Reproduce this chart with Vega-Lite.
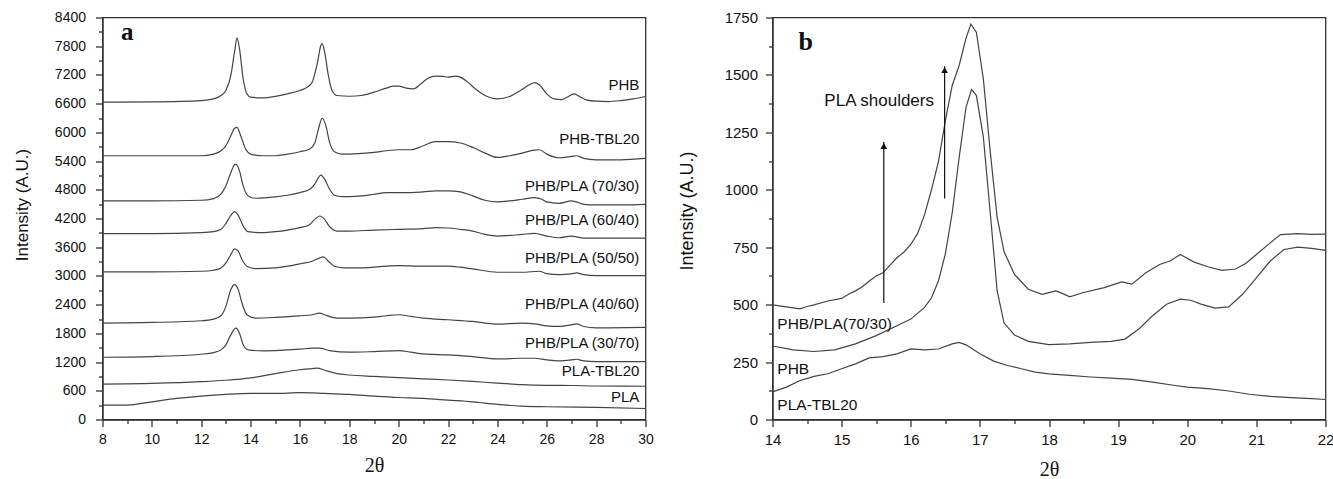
{
"$schema": "https://vega.github.io/schema/vega-lite/v6.json",
"autosize": {"type": "pad"},
"padding": {"left": 12.5, "top": 9.5, "right": 5, "bottom": 5},
"background": "white",
"bounds": "flush",
"spacing": 127,
"config": {
  "view": {"stroke": "#333", "strokeWidth": 1.3},
  "axis": {"grid": false, "domainColor": "#333", "tickColor": "#333", "labelColor": "#111", "titleColor": "#111", "labelFont": "Liberation Sans", "titleFont": "Liberation Sans", "domainWidth": 1.3, "tickWidth": 1.3, "labelOverlap": false, "labelFlush": false, "titleFontWeight": "normal"}
},
"datasets": {
  "a": [
    {"s":"PHB","x":8,"y":6630},{"s":"PHB","x":10,"y":6637},{"s":"PHB","x":12,"y":6665},{"s":"PHB","x":12.5,"y":6700},{"s":"PHB","x":12.8,"y":6770},{"s":"PHB","x":13,"y":6875},{"s":"PHB","x":13.2,"y":7190},{"s":"PHB","x":13.35,"y":7680},{"s":"PHB","x":13.45,"y":7975},{"s":"PHB","x":13.55,"y":7750},{"s":"PHB","x":13.7,"y":7120},{"s":"PHB","x":13.85,"y":6805},{"s":"PHB","x":14,"y":6735},{"s":"PHB","x":14.5,"y":6720},{"s":"PHB","x":15,"y":6750},{"s":"PHB","x":15.5,"y":6805},{"s":"PHB","x":16,"y":6875},{"s":"PHB","x":16.3,"y":6945},{"s":"PHB","x":16.5,"y":7050},{"s":"PHB","x":16.7,"y":7435},{"s":"PHB","x":16.85,"y":7820},{"s":"PHB","x":16.9,"y":7855},{"s":"PHB","x":17,"y":7680},{"s":"PHB","x":17.15,"y":7190},{"s":"PHB","x":17.3,"y":6875},{"s":"PHB","x":17.5,"y":6770},{"s":"PHB","x":18,"y":6755},{"s":"PHB","x":18.5,"y":6770},{"s":"PHB","x":19,"y":6840},{"s":"PHB","x":19.5,"y":6925},{"s":"PHB","x":19.8,"y":6966},{"s":"PHB","x":20,"y":6966},{"s":"PHB","x":20.3,"y":6925},{"s":"PHB","x":20.6,"y":6910},{"s":"PHB","x":20.9,"y":7015},{"s":"PHB","x":21.2,"y":7134},{"s":"PHB","x":21.5,"y":7176},{"s":"PHB","x":21.8,"y":7169},{"s":"PHB","x":22,"y":7155},{"s":"PHB","x":22.3,"y":7176},{"s":"PHB","x":22.5,"y":7155},{"s":"PHB","x":22.8,"y":7050},{"s":"PHB","x":23.1,"y":6910},{"s":"PHB","x":23.5,"y":6770},{"s":"PHB","x":24,"y":6700},{"s":"PHB","x":24.5,"y":6750},{"s":"PHB","x":25,"y":6896},{"s":"PHB","x":25.3,"y":6994},{"s":"PHB","x":25.5,"y":7040},{"s":"PHB","x":25.7,"y":6994},{"s":"PHB","x":26,"y":6805},{"s":"PHB","x":26.3,"y":6700},{"s":"PHB","x":26.6,"y":6686},{"s":"PHB","x":26.9,"y":6756},{"s":"PHB","x":27.1,"y":6805},{"s":"PHB","x":27.3,"y":6756},{"s":"PHB","x":27.6,"y":6680},{"s":"PHB","x":28,"y":6651},{"s":"PHB","x":28.5,"y":6644},{"s":"PHB","x":29,"y":6665},{"s":"PHB","x":29.5,"y":6700},{"s":"PHB","x":30,"y":6750},

    {"s":"PHB-TBL20","x":8,"y":5511},{"s":"PHB-TBL20","x":10,"y":5511},{"s":"PHB-TBL20","x":12,"y":5511},{"s":"PHB-TBL20","x":12.5,"y":5546},{"s":"PHB-TBL20","x":12.8,"y":5616},{"s":"PHB-TBL20","x":13,"y":5721},{"s":"PHB-TBL20","x":13.2,"y":5931},{"s":"PHB-TBL20","x":13.35,"y":6085},{"s":"PHB-TBL20","x":13.45,"y":6106},{"s":"PHB-TBL20","x":13.6,"y":5931},{"s":"PHB-TBL20","x":13.8,"y":5651},{"s":"PHB-TBL20","x":14,"y":5546},{"s":"PHB-TBL20","x":14.5,"y":5511},{"s":"PHB-TBL20","x":15,"y":5511},{"s":"PHB-TBL20","x":15.5,"y":5546},{"s":"PHB-TBL20","x":16,"y":5595},{"s":"PHB-TBL20","x":16.4,"y":5651},{"s":"PHB-TBL20","x":16.6,"y":5777},{"s":"PHB-TBL20","x":16.75,"y":6071},{"s":"PHB-TBL20","x":16.9,"y":6295},{"s":"PHB-TBL20","x":17.05,"y":6141},{"s":"PHB-TBL20","x":17.2,"y":5791},{"s":"PHB-TBL20","x":17.4,"y":5595},{"s":"PHB-TBL20","x":17.7,"y":5546},{"s":"PHB-TBL20","x":18,"y":5546},{"s":"PHB-TBL20","x":18.5,"y":5560},{"s":"PHB-TBL20","x":19,"y":5581},{"s":"PHB-TBL20","x":19.5,"y":5616},{"s":"PHB-TBL20","x":20,"y":5637},{"s":"PHB-TBL20","x":20.5,"y":5637},{"s":"PHB-TBL20","x":21,"y":5721},{"s":"PHB-TBL20","x":21.5,"y":5805},{"s":"PHB-TBL20","x":22,"y":5805},{"s":"PHB-TBL20","x":22.5,"y":5777},{"s":"PHB-TBL20","x":23,"y":5686},{"s":"PHB-TBL20","x":23.5,"y":5567},{"s":"PHB-TBL20","x":24,"y":5476},{"s":"PHB-TBL20","x":24.5,"y":5511},{"s":"PHB-TBL20","x":25,"y":5567},{"s":"PHB-TBL20","x":25.5,"y":5630},{"s":"PHB-TBL20","x":25.7,"y":5637},{"s":"PHB-TBL20","x":26,"y":5546},{"s":"PHB-TBL20","x":26.5,"y":5469},{"s":"PHB-TBL20","x":27,"y":5497},{"s":"PHB-TBL20","x":27.2,"y":5511},{"s":"PHB-TBL20","x":27.5,"y":5455},{"s":"PHB-TBL20","x":28,"y":5427},{"s":"PHB-TBL20","x":29,"y":5427},{"s":"PHB-TBL20","x":30,"y":5455},

    {"s":"70/30","x":8,"y":4567},{"s":"70/30","x":10,"y":4567},{"s":"70/30","x":12,"y":4581},{"s":"70/30","x":12.5,"y":4616},{"s":"70/30","x":12.8,"y":4707},{"s":"70/30","x":13,"y":4882},{"s":"70/30","x":13.2,"y":5162},{"s":"70/30","x":13.35,"y":5322},{"s":"70/30","x":13.4,"y":5336},{"s":"70/30","x":13.55,"y":5197},{"s":"70/30","x":13.7,"y":4882},{"s":"70/30","x":13.9,"y":4672},{"s":"70/30","x":14.2,"y":4623},{"s":"70/30","x":15,"y":4651},{"s":"70/30","x":15.5,"y":4686},{"s":"70/30","x":16,"y":4742},{"s":"70/30","x":16.4,"y":4812},{"s":"70/30","x":16.6,"y":4917},{"s":"70/30","x":16.75,"y":5057},{"s":"70/30","x":16.85,"y":5106},{"s":"70/30","x":17,"y":5022},{"s":"70/30","x":17.2,"y":4812},{"s":"70/30","x":17.4,"y":4686},{"s":"70/30","x":17.7,"y":4658},{"s":"70/30","x":18,"y":4658},{"s":"70/30","x":18.5,"y":4672},{"s":"70/30","x":19,"y":4707},{"s":"70/30","x":19.5,"y":4742},{"s":"70/30","x":20,"y":4742},{"s":"70/30","x":20.5,"y":4742},{"s":"70/30","x":21,"y":4756},{"s":"70/30","x":21.5,"y":4777},{"s":"70/30","x":22,"y":4777},{"s":"70/30","x":22.5,"y":4756},{"s":"70/30","x":23,"y":4672},{"s":"70/30","x":23.5,"y":4581},{"s":"70/30","x":24,"y":4546},{"s":"70/30","x":24.5,"y":4567},{"s":"70/30","x":25,"y":4602},{"s":"70/30","x":25.5,"y":4637},{"s":"70/30","x":25.8,"y":4602},{"s":"70/30","x":26,"y":4546},{"s":"70/30","x":26.5,"y":4518},{"s":"70/30","x":27,"y":4567},{"s":"70/30","x":27.2,"y":4546},{"s":"70/30","x":27.5,"y":4497},{"s":"70/30","x":28,"y":4483},{"s":"70/30","x":29,"y":4483},{"s":"70/30","x":30,"y":4497},

    {"s":"60/40","x":8,"y":3882},{"s":"60/40","x":10,"y":3882},{"s":"60/40","x":12,"y":3903},{"s":"60/40","x":12.5,"y":3924},{"s":"60/40","x":12.8,"y":3973},{"s":"60/40","x":13,"y":4099},{"s":"60/40","x":13.2,"y":4266},{"s":"60/40","x":13.35,"y":4343},{"s":"60/40","x":13.5,"y":4266},{"s":"60/40","x":13.7,"y":4043},{"s":"60/40","x":13.9,"y":3924},{"s":"60/40","x":14.5,"y":3903},{"s":"60/40","x":15,"y":3924},{"s":"60/40","x":15.5,"y":3959},{"s":"60/40","x":16,"y":4008},{"s":"60/40","x":16.4,"y":4077},{"s":"60/40","x":16.6,"y":4182},{"s":"60/40","x":16.8,"y":4252},{"s":"60/40","x":17,"y":4182},{"s":"60/40","x":17.2,"y":4029},{"s":"60/40","x":17.5,"y":3938},{"s":"60/40","x":18,"y":3938},{"s":"60/40","x":19,"y":3959},{"s":"60/40","x":20,"y":3973},{"s":"60/40","x":21,"y":3987},{"s":"60/40","x":21.5,"y":4008},{"s":"60/40","x":22,"y":4001},{"s":"60/40","x":22.5,"y":3973},{"s":"60/40","x":23,"y":3938},{"s":"60/40","x":23.5,"y":3868},{"s":"60/40","x":24,"y":3833},{"s":"60/40","x":24.5,"y":3847},{"s":"60/40","x":25,"y":3868},{"s":"60/40","x":25.5,"y":3889},{"s":"60/40","x":26,"y":3833},{"s":"60/40","x":26.5,"y":3798},{"s":"60/40","x":27,"y":3833},{"s":"60/40","x":27.5,"y":3791},{"s":"60/40","x":28,"y":3791},{"s":"60/40","x":30,"y":3791},

    {"s":"50/50","x":8,"y":3084},{"s":"50/50","x":10,"y":3084},{"s":"50/50","x":12,"y":3098},{"s":"50/50","x":12.5,"y":3119},{"s":"50/50","x":12.8,"y":3168},{"s":"50/50","x":13,"y":3273},{"s":"50/50","x":13.2,"y":3448},{"s":"50/50","x":13.35,"y":3567},{"s":"50/50","x":13.5,"y":3518},{"s":"50/50","x":13.65,"y":3343},{"s":"50/50","x":13.85,"y":3203},{"s":"50/50","x":14.2,"y":3154},{"s":"50/50","x":15,"y":3168},{"s":"50/50","x":15.5,"y":3203},{"s":"50/50","x":16,"y":3252},{"s":"50/50","x":16.5,"y":3308},{"s":"50/50","x":16.8,"y":3378},{"s":"50/50","x":16.95,"y":3399},{"s":"50/50","x":17.15,"y":3308},{"s":"50/50","x":17.4,"y":3203},{"s":"50/50","x":17.8,"y":3168},{"s":"50/50","x":18.5,"y":3168},{"s":"50/50","x":19.5,"y":3203},{"s":"50/50","x":20,"y":3217},{"s":"50/50","x":21,"y":3203},{"s":"50/50","x":22,"y":3203},{"s":"50/50","x":22.5,"y":3182},{"s":"50/50","x":23,"y":3147},{"s":"50/50","x":24,"y":3077},{"s":"50/50","x":25,"y":3077},{"s":"50/50","x":25.7,"y":3098},{"s":"50/50","x":26,"y":3049},{"s":"50/50","x":26.5,"y":3028},{"s":"50/50","x":27,"y":3042},{"s":"50/50","x":27.2,"y":3063},{"s":"50/50","x":27.5,"y":3028},{"s":"50/50","x":28,"y":3007},{"s":"50/50","x":30,"y":3007},

    {"s":"40/60","x":8,"y":2014},{"s":"40/60","x":10,"y":2028},{"s":"40/60","x":12,"y":2063},{"s":"40/60","x":12.5,"y":2098},{"s":"40/60","x":12.8,"y":2168},{"s":"40/60","x":13,"y":2364},{"s":"40/60","x":13.2,"y":2714},{"s":"40/60","x":13.35,"y":2819},{"s":"40/60","x":13.5,"y":2714},{"s":"40/60","x":13.65,"y":2434},{"s":"40/60","x":13.85,"y":2189},{"s":"40/60","x":14.2,"y":2119},{"s":"40/60","x":15,"y":2133},{"s":"40/60","x":16,"y":2168},{"s":"40/60","x":16.5,"y":2189},{"s":"40/60","x":16.8,"y":2224},{"s":"40/60","x":17,"y":2189},{"s":"40/60","x":17.5,"y":2119},{"s":"40/60","x":18,"y":2119},{"s":"40/60","x":19,"y":2140},{"s":"40/60","x":19.5,"y":2168},{"s":"40/60","x":20,"y":2189},{"s":"40/60","x":20.5,"y":2154},{"s":"40/60","x":21,"y":2119},{"s":"40/60","x":22,"y":2084},{"s":"40/60","x":23,"y":2049},{"s":"40/60","x":24,"y":1993},{"s":"40/60","x":25,"y":2014},{"s":"40/60","x":25.5,"y":2000},{"s":"40/60","x":26,"y":1958},{"s":"40/60","x":26.5,"y":1944},{"s":"40/60","x":27,"y":1979},{"s":"40/60","x":27.2,"y":2000},{"s":"40/60","x":27.5,"y":1944},{"s":"40/60","x":28,"y":1916},{"s":"40/60","x":30,"y":1923},

    {"s":"30/70","x":8,"y":1301},{"s":"30/70","x":10,"y":1315},{"s":"30/70","x":12,"y":1364},{"s":"30/70","x":12.5,"y":1399},{"s":"30/70","x":12.8,"y":1455},{"s":"30/70","x":13,"y":1560},{"s":"30/70","x":13.2,"y":1769},{"s":"30/70","x":13.4,"y":1909},{"s":"30/70","x":13.55,"y":1804},{"s":"30/70","x":13.7,"y":1560},{"s":"30/70","x":13.9,"y":1455},{"s":"30/70","x":14.5,"y":1434},{"s":"30/70","x":15,"y":1441},{"s":"30/70","x":16,"y":1469},{"s":"30/70","x":16.5,"y":1490},{"s":"30/70","x":16.8,"y":1490},{"s":"30/70","x":17.2,"y":1441},{"s":"30/70","x":18,"y":1406},{"s":"30/70","x":19,"y":1420},{"s":"30/70","x":20,"y":1441},{"s":"30/70","x":20.5,"y":1406},{"s":"30/70","x":21,"y":1371},{"s":"30/70","x":22,"y":1350},{"s":"30/70","x":23,"y":1315},{"s":"30/70","x":24,"y":1266},{"s":"30/70","x":25,"y":1280},{"s":"30/70","x":25.5,"y":1280},{"s":"30/70","x":26,"y":1245},{"s":"30/70","x":26.5,"y":1224},{"s":"30/70","x":27,"y":1245},{"s":"30/70","x":27.2,"y":1259},{"s":"30/70","x":27.5,"y":1224},{"s":"30/70","x":28,"y":1210},{"s":"30/70","x":30,"y":1210},

    {"s":"PLA-TBL20","x":8,"y":741},{"s":"PLA-TBL20","x":10,"y":755},{"s":"PLA-TBL20","x":12,"y":790},{"s":"PLA-TBL20","x":13,"y":820},{"s":"PLA-TBL20","x":14,"y":870},{"s":"PLA-TBL20","x":15,"y":960},{"s":"PLA-TBL20","x":16,"y":1040},{"s":"PLA-TBL20","x":16.5,"y":1065},{"s":"PLA-TBL20","x":16.7,"y":1075},{"s":"PLA-TBL20","x":17,"y":1030},{"s":"PLA-TBL20","x":17.5,"y":960},{"s":"PLA-TBL20","x":18,"y":930},{"s":"PLA-TBL20","x":19,"y":900},{"s":"PLA-TBL20","x":20,"y":875},{"s":"PLA-TBL20","x":21,"y":850},{"s":"PLA-TBL20","x":22,"y":825},{"s":"PLA-TBL20","x":23,"y":795},{"s":"PLA-TBL20","x":24,"y":760},{"s":"PLA-TBL20","x":25,"y":730},{"s":"PLA-TBL20","x":26,"y":715},{"s":"PLA-TBL20","x":27,"y":710},{"s":"PLA-TBL20","x":28,"y":700},{"s":"PLA-TBL20","x":30,"y":695},

    {"s":"PLA","x":8,"y":301},{"s":"PLA","x":9,"y":300},{"s":"PLA","x":10,"y":370},{"s":"PLA","x":11,"y":440},{"s":"PLA","x":12,"y":490},{"s":"PLA","x":13,"y":525},{"s":"PLA","x":14,"y":545},{"s":"PLA","x":15,"y":545},{"s":"PLA","x":16,"y":560},{"s":"PLA","x":17,"y":545},{"s":"PLA","x":18,"y":525},{"s":"PLA","x":19,"y":490},{"s":"PLA","x":20,"y":460},{"s":"PLA","x":21,"y":440},{"s":"PLA","x":22,"y":405},{"s":"PLA","x":23,"y":370},{"s":"PLA","x":24,"y":315},{"s":"PLA","x":25,"y":280},{"s":"PLA","x":26,"y":266},{"s":"PLA","x":28,"y":252},{"s":"PLA","x":30,"y":230}
  ],
  "la": [
    {"x":29.75,"y":6993,"t":"PHB"},{"x":29.75,"y":5859,"t":"PHB-TBL20"},{"x":29.75,"y":4872,"t":"PHB/PLA (70/30)"},{"x":29.75,"y":4179,"t":"PHB/PLA (60/40)"},{"x":29.75,"y":3381,"t":"PHB/PLA (50/50)"},{"x":29.75,"y":2415,"t":"PHB/PLA (40/60)"},{"x":29.75,"y":1596,"t":"PHB/PLA (30/70)"},{"x":29.75,"y":1008,"t":"PLA-TBL20"},{"x":29.75,"y":462,"t":"PLA"}
  ],
  "pa": [{"x":9.0,"y":8106,"t":"a"}],
  "b": [
    {"s":"70/30","x":14,"y":499},{"s":"70/30","x":14.2,"y":490},{"s":"70/30","x":14.4,"y":482},{"s":"70/30","x":14.5,"y":492},{"s":"70/30","x":14.6,"y":499},{"s":"70/30","x":14.8,"y":516},{"s":"70/30","x":15,"y":527},{"s":"70/30","x":15.1,"y":545},{"s":"70/30","x":15.2,"y":560},{"s":"70/30","x":15.3,"y":578},{"s":"70/30","x":15.4,"y":603},{"s":"70/30","x":15.5,"y":625},{"s":"70/30","x":15.6,"y":639},{"s":"70/30","x":15.7,"y":672},{"s":"70/30","x":15.8,"y":704},{"s":"70/30","x":15.9,"y":728},{"s":"70/30","x":16,"y":762},{"s":"70/30","x":16.1,"y":810},{"s":"70/30","x":16.2,"y":892},{"s":"70/30","x":16.3,"y":1000},{"s":"70/30","x":16.4,"y":1122},{"s":"70/30","x":16.5,"y":1300},{"s":"70/30","x":16.6,"y":1454},{"s":"70/30","x":16.7,"y":1541},{"s":"70/30","x":16.8,"y":1660},{"s":"70/30","x":16.87,"y":1721},{"s":"70/30","x":16.95,"y":1685},{"s":"70/30","x":17.05,"y":1483},{"s":"70/30","x":17.15,"y":1166},{"s":"70/30","x":17.25,"y":880},{"s":"70/30","x":17.35,"y":730},{"s":"70/30","x":17.5,"y":632},{"s":"70/30","x":17.7,"y":567},{"s":"70/30","x":17.9,"y":545},{"s":"70/30","x":18.1,"y":560},{"s":"70/30","x":18.2,"y":548},{"s":"70/30","x":18.3,"y":534},{"s":"70/30","x":18.5,"y":553},{"s":"70/30","x":18.8,"y":574},{"s":"70/30","x":19.05,"y":599},{"s":"70/30","x":19.2,"y":589},{"s":"70/30","x":19.4,"y":639},{"s":"70/30","x":19.6,"y":675},{"s":"70/30","x":19.75,"y":690},{"s":"70/30","x":19.9,"y":718},{"s":"70/30","x":20.1,"y":685},{"s":"70/30","x":20.3,"y":665},{"s":"70/30","x":20.5,"y":649},{"s":"70/30","x":20.7,"y":655},{"s":"70/30","x":20.85,"y":680},{"s":"70/30","x":21,"y":718},{"s":"70/30","x":21.2,"y":769},{"s":"70/30","x":21.35,"y":805},{"s":"70/30","x":21.6,"y":809},{"s":"70/30","x":21.8,"y":806},{"s":"70/30","x":22,"y":807},

    {"s":"PHB","x":14,"y":320},{"s":"PHB","x":14.3,"y":303},{"s":"PHB","x":14.6,"y":296},{"s":"PHB","x":14.9,"y":303},{"s":"PHB","x":15.2,"y":329},{"s":"PHB","x":15.5,"y":365},{"s":"PHB","x":15.8,"y":408},{"s":"PHB","x":16,"y":437},{"s":"PHB","x":16.2,"y":488},{"s":"PHB","x":16.3,"y":530},{"s":"PHB","x":16.4,"y":603},{"s":"PHB","x":16.5,"y":720},{"s":"PHB","x":16.6,"y":900},{"s":"PHB","x":16.7,"y":1140},{"s":"PHB","x":16.8,"y":1360},{"s":"PHB","x":16.88,"y":1437},{"s":"PHB","x":16.95,"y":1410},{"s":"PHB","x":17.05,"y":1230},{"s":"PHB","x":17.15,"y":900},{"s":"PHB","x":17.25,"y":560},{"s":"PHB","x":17.35,"y":420},{"s":"PHB","x":17.5,"y":368},{"s":"PHB","x":17.7,"y":340},{"s":"PHB","x":18,"y":326},{"s":"PHB","x":18.3,"y":329},{"s":"PHB","x":18.6,"y":336},{"s":"PHB","x":18.9,"y":340},{"s":"PHB","x":19.1,"y":350},{"s":"PHB","x":19.3,"y":394},{"s":"PHB","x":19.5,"y":452},{"s":"PHB","x":19.7,"y":502},{"s":"PHB","x":19.9,"y":524},{"s":"PHB","x":20.05,"y":519},{"s":"PHB","x":20.2,"y":502},{"s":"PHB","x":20.4,"y":485},{"s":"PHB","x":20.6,"y":490},{"s":"PHB","x":20.8,"y":545},{"s":"PHB","x":21,"y":617},{"s":"PHB","x":21.2,"y":690},{"s":"PHB","x":21.4,"y":740},{"s":"PHB","x":21.6,"y":750},{"s":"PHB","x":21.8,"y":745},{"s":"PHB","x":22,"y":736},

    {"s":"PLA-TBL20","x":14,"y":120},{"s":"PLA-TBL20","x":14.2,"y":141},{"s":"PLA-TBL20","x":14.4,"y":170},{"s":"PLA-TBL20","x":14.6,"y":188},{"s":"PLA-TBL20","x":14.8,"y":199},{"s":"PLA-TBL20","x":15,"y":221},{"s":"PLA-TBL20","x":15.2,"y":242},{"s":"PLA-TBL20","x":15.4,"y":268},{"s":"PLA-TBL20","x":15.6,"y":274},{"s":"PLA-TBL20","x":15.8,"y":286},{"s":"PLA-TBL20","x":16,"y":307},{"s":"PLA-TBL20","x":16.2,"y":303},{"s":"PLA-TBL20","x":16.4,"y":307},{"s":"PLA-TBL20","x":16.6,"y":329},{"s":"PLA-TBL20","x":16.7,"y":336},{"s":"PLA-TBL20","x":16.8,"y":325},{"s":"PLA-TBL20","x":17,"y":286},{"s":"PLA-TBL20","x":17.2,"y":254},{"s":"PLA-TBL20","x":17.4,"y":235},{"s":"PLA-TBL20","x":17.6,"y":221},{"s":"PLA-TBL20","x":17.8,"y":206},{"s":"PLA-TBL20","x":18,"y":199},{"s":"PLA-TBL20","x":18.3,"y":192},{"s":"PLA-TBL20","x":18.6,"y":185},{"s":"PLA-TBL20","x":18.9,"y":180},{"s":"PLA-TBL20","x":19.2,"y":175},{"s":"PLA-TBL20","x":19.5,"y":163},{"s":"PLA-TBL20","x":19.8,"y":149},{"s":"PLA-TBL20","x":20,"y":141},{"s":"PLA-TBL20","x":20.3,"y":134},{"s":"PLA-TBL20","x":20.6,"y":124},{"s":"PLA-TBL20","x":20.9,"y":110},{"s":"PLA-TBL20","x":21.2,"y":101},{"s":"PLA-TBL20","x":21.5,"y":95},{"s":"PLA-TBL20","x":21.8,"y":91},{"s":"PLA-TBL20","x":22,"y":87}
  ],
  "lb": [
    {"x":14.07,"y":416,"t":"PHB/PLA(70/30)"},{"x":14.07,"y":221,"t":"PHB"},{"x":14.07,"y":61,"t":"PLA-TBL20"}
  ],
  "sb": [{"x":14.75,"y":1386,"t":"PLA shoulders"}],
  "pb": [{"x":14.48,"y":1642,"t":"b"}],
  "arr": [{"x":15.61,"y0":507,"y1":1208},{"x":16.49,"y0":962,"y1":1538}]
},
"hconcat": [
  {
    "width": 543, "height": 402,
    "resolve": {"axis": {"x": "independent", "y": "independent"}},
    "layer": [
      {
        "data": {"name": "a"},
        "mark": {"type": "line", "color": "#444", "strokeWidth": 1.2, "interpolate": "monotone"},
        "encoding": {
          "x": {"field": "x", "type": "quantitative", "scale": {"domain": [8, 30], "nice": false, "zero": false},
            "axis": {"orient": "bottom", "values": [8,10,12,14,16,18,20,22,24,26,28,30], "tickSize": 7,
              "labelFontSize": 14, "labelPadding": 6,
              "title": "2θ", "titleFont": "Liberation Serif", "titleFontSize": 20, "titleY": 46, "titleBaseline": "middle"}},
          "y": {"field": "y", "type": "quantitative", "scale": {"domain": [0, 8400], "nice": false},
            "axis": {"orient": "left", "values": [0,600,1200,1800,2400,3000,3600,4200,4800,5400,6000,6600,7200,7800,8400], "tickSize": 7,
              "format": "d", "labelFontSize": 14, "labelPadding": 10,
              "title": "Intensity (A.U.)", "titleFontSize": 17, "titleX": -80, "titleY": 187, "titleAngle": -90, "titleAlign": "center", "titleBaseline": "middle"}},
          "detail": {"field": "s"}
        }
      },
      {
        "data": {"name": "la"},
        "mark": {"type": "text", "align": "right", "baseline": "middle", "font": "Liberation Sans", "fontSize": 15, "color": "#111"},
        "encoding": {
          "x": {"field": "x", "type": "quantitative", "axis": {"orient": "bottom", "values": [9,11,13,15,17,19,21,23,25,27,29], "tickSize": 4, "labels": false, "domain": false, "title": null}},
          "y": {"field": "y", "type": "quantitative", "axis": {"orient": "left", "values": [300,900,1500,2100,2700,3300,3900,4500,5100,5700,6300,6900,7500,8100], "tickSize": 4, "labels": false, "domain": false, "title": null}},
          "text": {"field": "t"}}
      },
      {
        "data": {"name": "pa"},
        "mark": {"type": "text", "align": "center", "baseline": "middle", "font": "Liberation Serif", "fontWeight": "bold", "fontSize": 25, "color": "#111"},
        "encoding": {"x": {"field": "x", "type": "quantitative", "axis": null}, "y": {"field": "y", "type": "quantitative", "axis": null}, "text": {"field": "t"}}
      }
    ]
  },
  {
    "width": 553, "height": 402,
    "resolve": {"axis": {"x": "independent", "y": "independent"}},
    "layer": [
      {
        "data": {"name": "b"},
        "mark": {"type": "line", "color": "#444", "strokeWidth": 1.2},
        "encoding": {
          "x": {"field": "x", "type": "quantitative", "scale": {"domain": [14, 22], "nice": false, "zero": false},
            "axis": {"orient": "bottom", "values": [14,15,16,17,18,19,20,21,22], "tickSize": 7,
              "labelFontSize": 15, "labelPadding": 6,
              "title": "2θ", "titleFont": "Liberation Serif", "titleFontSize": 20, "titleY": 50, "titleBaseline": "middle"}},
          "y": {"field": "y", "type": "quantitative", "scale": {"domain": [0, 1750], "nice": false},
            "axis": {"orient": "left", "values": [0,250,500,750,1000,1250,1500,1750], "tickSize": 7,
              "format": "d", "labelFontSize": 15, "labelPadding": 8,
              "title": "Intensity (A.U.)", "titleFontSize": 18, "titleX": -85, "titleY": 193, "titleAngle": -90, "titleAlign": "center", "titleBaseline": "middle"}},
          "detail": {"field": "s"}
        }
      },
      {
        "data": {"name": "lb"},
        "mark": {"type": "text", "align": "left", "baseline": "middle", "font": "Liberation Sans", "fontSize": 15.5, "color": "#111"},
        "encoding": {
          "x": {"field": "x", "type": "quantitative", "axis": {"orient": "bottom", "values": [14.5,15.5,16.5,17.5,18.5,19.5,20.5,21.5], "tickSize": 4, "labels": false, "domain": false, "title": null}},
          "y": {"field": "y", "type": "quantitative", "axis": {"orient": "left", "values": [125,375,625,875,1125,1375,1625], "tickSize": 4, "labels": false, "domain": false, "title": null}},
          "text": {"field": "t"}}
      },
      {
        "data": {"name": "sb"},
        "mark": {"type": "text", "align": "left", "baseline": "middle", "font": "Liberation Sans", "fontSize": 17, "color": "#111"},
        "encoding": {"x": {"field": "x", "type": "quantitative", "axis": null}, "y": {"field": "y", "type": "quantitative", "axis": null}, "text": {"field": "t"}}
      },
      {
        "data": {"name": "pb"},
        "mark": {"type": "text", "align": "center", "baseline": "middle", "font": "Liberation Serif", "fontWeight": "bold", "fontSize": 26, "color": "#111"},
        "encoding": {"x": {"field": "x", "type": "quantitative", "axis": null}, "y": {"field": "y", "type": "quantitative", "axis": null}, "text": {"field": "t"}}
      },
      {
        "data": {"name": "arr"},
        "mark": {"type": "rule", "color": "#111", "strokeWidth": 1.2},
        "encoding": {"x": {"field": "x", "type": "quantitative", "axis": null}, "y": {"field": "y0", "type": "quantitative", "axis": null}, "y2": {"field": "y1"}}
      },
      {
        "data": {"name": "arr"},
        "mark": {"type": "point", "shape": "triangle-up", "filled": true, "color": "#111", "size": 45, "opacity": 1, "yOffset": 4},
        "encoding": {"x": {"field": "x", "type": "quantitative", "axis": null}, "y": {"field": "y1", "type": "quantitative", "axis": null}}
      }
    ]
  }
]
}
